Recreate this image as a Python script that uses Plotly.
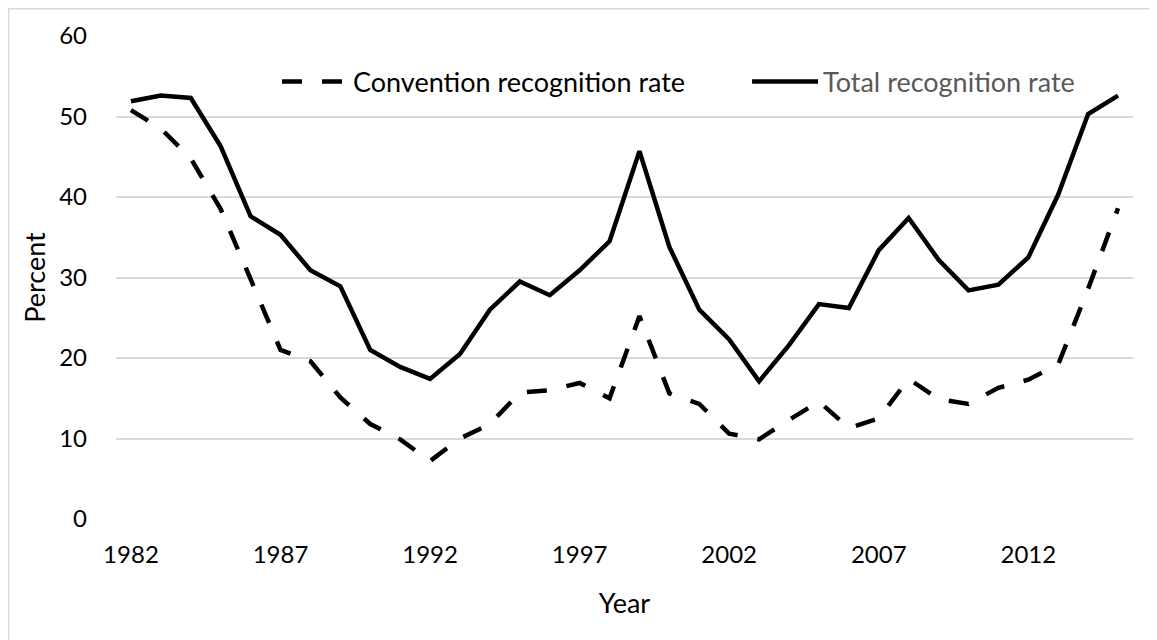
import plotly.graph_objects as go

years = list(range(1982, 2016))
convention_rate = [50.8, 48.5, 44.8, 38.5, 29.8, 21.0, 19.6, 15.1, 11.8, 9.9,
                   7.2, 10.0, 11.8, 15.7, 16.0, 16.9, 15.0, 25.2, 15.6, 14.3,
                   10.6, 9.9, 12.3, 14.6, 11.3, 12.5, 17.4, 14.9, 14.3, 16.3,
                   17.3, 19.2, 28.6, 38.6]
total_rate = [51.9, 52.6, 52.3, 46.3, 37.6, 35.3, 30.9, 28.9, 21.0, 18.9,
              17.4, 20.5, 26.0, 29.5, 27.8, 30.9, 34.5, 45.7, 33.8, 26.0,
              22.3, 17.1, 21.6, 26.7, 26.2, 33.4, 37.4, 32.2, 28.4, 29.1,
              32.5, 40.3, 50.3, 52.6]
x_ticks = [1982, 1987, 1992, 1997, 2002, 2007, 2012]
y_ticks = [0, 10, 20, 30, 40, 50, 60]

FONT = "Lato"

fig = go.Figure()
fig.add_trace(go.Scatter(
    x=years, y=convention_rate, mode="lines",
    name="Convention recognition rate",
    line=dict(color="black", width=4.5, dash="20px,20px"),
    legend="legend",
))
fig.add_trace(go.Scatter(
    x=years, y=total_rate, mode="lines",
    name="Total recognition rate",
    line=dict(color="black", width=4.5),
    legend="legend2",
))

legend_common = dict(
    orientation="h", yanchor="middle", xanchor="left",
    bgcolor="rgba(0,0,0,0)", itemwidth=66,
)

fig.update_layout(
    width=1157, height=640,
    margin=dict(l=108, r=32, t=28, b=129),
    paper_bgcolor="white", plot_bgcolor="white",
    font=dict(family=FONT, size=24, color="black"),
    showlegend=True,
    legend=dict(x=0.1583, y=0.905, font=dict(family=FONT, size=27, color="black"), **legend_common),
    legend2=dict(x=0.6205, y=0.905, font=dict(family=FONT, size=27, color="#595959"), **legend_common),
    xaxis=dict(
        range=[1981.5, 2015.5], tickmode="array", tickvals=x_ticks,
        ticktext=[str(v) for v in x_ticks],
        showgrid=False, zeroline=False, showline=False, ticks="",
        ticklabelstandoff=19,
        title=dict(text="Year", font=dict(family=FONT, size=27, color="black"), standoff=27),
    ),
    yaxis=dict(
        range=[0, 60], tickmode="array", tickvals=y_ticks,
        showgrid=True, gridcolor="#d9d9d9", gridwidth=1.5,
        zeroline=False, showline=False, ticks="",
        ticklabelstandoff=28,
        title=dict(text="Percent", font=dict(family=FONT, size=27, color="black"), standoff=5),
    ),
    shapes=[dict(
        type="rect", xref="paper", yref="paper",
        x0=-0.1055, x1=1.05, y0=-0.30, y1=1.0564,
        line=dict(color="#d9d9d9", width=1.5), fillcolor="rgba(0,0,0,0)", layer="below",
    )],
)

fig.write_html("out.html")
